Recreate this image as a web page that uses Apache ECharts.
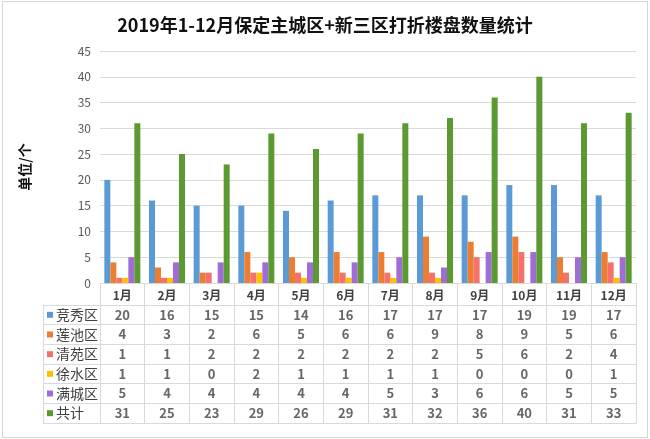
<!DOCTYPE html>
<html><head><meta charset="utf-8">
<script src="https://cdn.jsdelivr.net/npm/echarts@6/dist/echarts.min.js"></script>
<style>
body{margin:0;background:#fff}
#w{position:relative;width:650px;height:439px}
#c{width:650px;height:439px}
#f{position:absolute;left:2px;top:1px;width:644px;height:435px;border:1px solid #d6d6d6;pointer-events:none}
</style></head>
<body><div id="w"><div id="c"></div><div id="f"></div></div>
<script>
var months = ['1月','2月','3月','4月','5月','6月','7月','8月','9月','10月','11月','12月'];
var seriesNames = ['竞秀区','莲池区','清苑区','徐水区','满城区','共计'];
var jingxiu  = [20,16,15,15,14,16,17,17,17,19,19,17];
var lianchi  = [4,3,2,6,5,6,6,9,8,9,5,6];
var qingyuan = [1,1,2,2,2,2,2,2,5,6,2,4];
var xushui   = [1,1,0,2,1,1,1,1,0,0,0,1];
var mancheng = [5,4,4,4,4,4,5,3,6,6,5,5];
var total    = [31,25,23,29,26,29,31,32,36,40,31,33];
var yMax = 45, yStep = 5;
var colors = ['#5b9bd5','#ed7d31','#f4726b','#ffc000','#a06cd5','#5b9a31'];
var allValues = [jingxiu, lianchi, qingyuan, xushui, mancheng, total];

var font = '"Noto Sans CJK SC", "Noto Sans", sans-serif';
var gridLine = '#d9d9d9';

var cells = [];
allValues.forEach(function(arr, r){ arr.forEach(function(v, m){ cells.push([m, r, v]); }); });

var rich = { t: { fontSize: 14, color: '#404040', fontFamily: font, padding: [0,0,0,3] } };
colors.forEach(function(c, i){ rich['s'+i] = { width: 6, height: 6, backgroundColor: c }; });

var barSeries = seriesNames.map(function(n, i){
  return { name: n, type: 'bar', xAxisIndex: 0, yAxisIndex: 0, data: allValues[i],
    barWidth: 6, barGap: '0%', itemStyle: { color: colors[i] }, silent: true };
});

var chart = echarts.init(document.getElementById('c'), null, { renderer: 'canvas' });
chart.setOption({
  animation: false,
  textStyle: { fontFamily: font },
  title: { text: '2019年1-12月保定主城区+新三区打折楼盘数量统计', left: 'center', top: 11,
    textStyle: { fontSize: 18, fontWeight: 'bold', color: '#111', fontFamily: font } },
  grid: [
    { left: 100, right: 14, top: 51, bottom: 156 },
    { left: 100, right: 14, top: 305, bottom: 16 }
  ],
  xAxis: [
    { type: 'category', gridIndex: 0, data: months,
      axisLine: { lineStyle: { color: gridLine } },
      axisTick: { show: true, length: 22, lineStyle: { color: gridLine } },
      axisLabel: { margin: 6, fontSize: 12, fontWeight: 'bold', color: '#404040', fontFamily: font } },
    { type: 'category', gridIndex: 1, data: months,
      axisLine: { lineStyle: { color: gridLine } }, axisTick: { show: false }, axisLabel: { show: false },
      splitLine: { show: true, interval: 0, lineStyle: { color: gridLine } } },
    { type: 'category', gridIndex: 1, data: months, position: 'top',
      axisLine: { lineStyle: { color: gridLine } }, axisTick: { show: false }, axisLabel: { show: false } }
  ],
  yAxis: [
    { type: 'value', gridIndex: 0, min: 0, max: yMax, interval: yStep,
      axisLine: { show: false }, axisTick: { show: false },
      axisLabel: { margin: 9, fontSize: 12, color: '#595959', fontFamily: font },
      splitLine: { lineStyle: { color: gridLine } },
      name: '单位/个', nameLocation: 'middle', nameGap: 68, nameRotate: 90,
      nameTextStyle: { fontSize: 14, fontWeight: 'bold', color: '#111', fontFamily: font } },
    { type: 'category', gridIndex: 1, data: seriesNames, inverse: true,
      axisLine: { show: true, lineStyle: { color: gridLine } },
      axisTick: { show: true, length: 57, lineStyle: { color: gridLine } },
      splitLine: { show: true, interval: 0, lineStyle: { color: gridLine } },
      axisLabel: { align: 'left', margin: 53, rich: rich,
        formatter: function(v, i){ return '{s'+i+'|}{t|'+v+'}'; } } },
    { type: 'category', gridIndex: 1, data: seriesNames, inverse: true, position: 'left', offset: 57,
      axisLine: { show: true, lineStyle: { color: gridLine } }, axisTick: { show: false }, axisLabel: { show: false } },
    { type: 'category', gridIndex: 1, data: seriesNames, inverse: true, position: 'right',
      axisLine: { show: true, lineStyle: { color: gridLine } }, axisTick: { show: false }, axisLabel: { show: false } }
  ],
  series: barSeries.concat([{
    type: 'scatter', xAxisIndex: 1, yAxisIndex: 1, data: cells, symbolSize: 0, silent: true,
    label: { show: true, position: 'inside', fontSize: 13, fontWeight: 'bold', color: '#404040', fontFamily: font,
      formatter: function(p){ return p.data[2]; } }
  }])
});
</script>
</body></html>
